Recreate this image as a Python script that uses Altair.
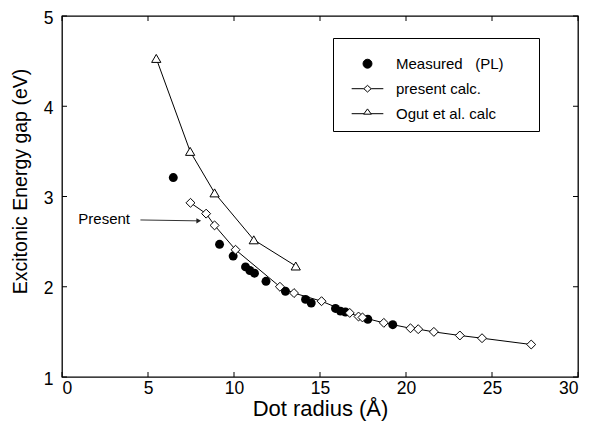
import altair as alt
import pandas as pd

# ---- data ----
measured_x = [6.47, 9.16, 9.95, 10.67, 10.92, 11.19, 11.86, 12.99, 14.16, 14.49, 15.90, 16.19, 16.48, 17.78, 19.23]
measured_y = [3.21, 2.47, 2.34, 2.22, 2.18, 2.15, 2.06, 1.95, 1.86, 1.82, 1.76, 1.73, 1.72, 1.64, 1.58]

present_x = [7.47, 8.38, 8.87, 10.09, 12.67, 13.49, 15.09, 16.73, 17.24, 17.47, 18.71, 20.26, 20.71, 21.62, 23.13, 24.42, 27.28]
present_y = [2.93, 2.81, 2.68, 2.41, 2.00, 1.93, 1.84, 1.71, 1.67, 1.66, 1.60, 1.54, 1.53, 1.50, 1.46, 1.43, 1.36]

ogut_x = [5.48, 7.45, 8.87, 11.15, 13.59]
ogut_y = [4.53, 3.50, 3.04, 2.52, 2.23]

NB = "\u00a0"
series_names = ["Measured" + NB * 3 + "(PL)" + NB + "\u2800\u2800", "present calc.", "Ogut et al. calc"]

x_ticks = [0, 5, 10, 15, 20, 25, 30]
y_ticks = [1, 2, 3, 4, 5]

note_text = ["Present"]
note_x = [0.95]
note_y = [2.75]
arrow_x = [4.56, 7.95]
arrow_y = [2.74, 2.73]

W, H = 516, 361
FONT = "Liberation Sans"
NARROW = "Liberation Sans Narrow, Liberation Sans"

meas_df = pd.DataFrame({"x": measured_x, "y": measured_y})
pres_df = pd.DataFrame({"x": present_x, "y": present_y})
ogut_df = pd.DataFrame({"x": ogut_x, "y": ogut_y})

xs = alt.Scale(domain=[0, 30], nice=False, zero=False)
ys = alt.Scale(domain=[1, 5], nice=False, zero=False)
X = alt.X("x:Q", scale=xs, axis=alt.Axis(values=x_ticks, title="Dot radius (Å)",
          domain=False, ticks=False, grid=False, labelFontSize=17.5, labelPadding=2,
          labelFont=NARROW, labelColor="black", titleFont=FONT, titleFontSize=22,
          titleFontWeight="normal", titleColor="black", titlePadding=2))
Y = alt.Y("y:Q", scale=ys, axis=alt.Axis(values=y_ticks, title="Excitonic Energy gap (eV)",
          domain=False, ticks=False, grid=False, labelFontSize=17.5, labelPadding=9,
          labelOffset=2, labelFont=NARROW, labelColor="black", titleFont=FONT, titleFontSize=19.5,
          titleFontWeight="normal", titleColor="black", titleX=-32, titleY=165))

pres_line = alt.Chart(pres_df).mark_line(color="black", strokeWidth=1).encode(x=X, y=Y)
ogut_line = alt.Chart(ogut_df).mark_line(color="black", strokeWidth=1).encode(x=X, y=Y)
pres_pts = alt.Chart(pres_df).mark_point(shape="diamond", filled=True, fill="white", stroke="black",
                                         strokeWidth=1, size=80, opacity=1).encode(x=X, y=Y)
ogut_pts = alt.Chart(ogut_df).mark_point(shape="triangle-up", filled=True, fill="white", stroke="black",
                                         strokeWidth=1, size=85, opacity=1).encode(x=X, y=Y)
meas_pts = alt.Chart(meas_df).mark_circle(color="black", size=80, opacity=1).encode(x=X, y=Y)

# legend (symbols drawn as line + marker paths)
circle_p = "M0.27,0A0.28,0.28 0 1,0 0.83,0A0.28,0.28 0 1,0 0.27,0Z"
diamond_p = "M-0.44,0H0.32M0.78,0H1.54M0.55,-0.21L0.78,0L0.55,0.21L0.32,0Z"
tri_p = "M-0.44,0H0.33M0.77,0H1.54M0.55,-0.3L0.79,0.03L0.31,0.03Z"

leg = alt.Legend(
    title=None, orient="none", legendX=271, legendY=22, padding=9.2,
    strokeColor="black", fillColor="white", symbolSize=1024, rowPadding=-12.7,
    labelOffset=20.8, labelFontSize=15, labelFont=FONT, labelColor="black", labelLimit=300,
    symbolStrokeWidth=1, symbolStrokeColor="black", symbolOpacity=1)
leg_df = pd.DataFrame({"x": [1, 1, 1], "y": [1.5, 1.5, 1.5], "s": series_names})
legend_layer = alt.Chart(leg_df).mark_point(filled=True, strokeWidth=1, opacity=0, size=1).encode(
    x=X, y=Y,
    shape=alt.Shape("s:N", scale=alt.Scale(domain=series_names, range=[circle_p, diamond_p, tri_p]), legend=leg),
    fill=alt.Fill("s:N", scale=alt.Scale(domain=series_names, range=["black", "white", "white"]), legend=leg),
    stroke=alt.Stroke("s:N", scale=alt.Scale(domain=series_names, range=["black", "black", "black"]), legend=leg),
)

note = alt.Chart(pd.DataFrame({"x": note_x, "y": note_y, "t": note_text})).mark_text(
    align="left", baseline="middle", fontSize=15, font=FONT, color="black").encode(
    x=X, y=Y, text="t:N")
arrow_df = pd.DataFrame({"x": arrow_x, "y": arrow_y})
arrow = alt.Chart(arrow_df).mark_line(color="#333", strokeWidth=1).encode(x=X, y=Y)
head = alt.Chart(arrow_df.tail(1)).mark_point(shape="triangle-right", filled=True, color="#222",
                                               size=30, opacity=1).encode(x=X, y=Y)

xt = pd.DataFrame({"x": x_ticks})
yt = pd.DataFrame({"y": y_ticks})
tb = alt.Chart(xt).mark_rule(color="black", strokeWidth=1).encode(x=X, y=alt.value(H), y2=alt.value(H - 5))
tt = alt.Chart(xt).mark_rule(color="black", strokeWidth=1).encode(x=X, y=alt.value(0), y2=alt.value(5))
tl = alt.Chart(yt).mark_rule(color="black", strokeWidth=1).encode(y=Y, x=alt.value(0), x2=alt.value(5))
tr = alt.Chart(yt).mark_rule(color="black", strokeWidth=1).encode(y=Y, x=alt.value(W), x2=alt.value(W - 5))

chart = alt.layer(tb, tt, tl, tr, pres_line, ogut_line, arrow, head, note,
                  meas_pts, pres_pts, ogut_pts, legend_layer).properties(
    width=W, height=H,
    autosize=alt.AutoSizeParams(type="none"),
    padding={"left": 54, "top": 8, "right": 3, "bottom": 50},
    background="white",
).configure_view(stroke="black", strokeWidth=1.3)

chart.save("out.html", embed_options={"renderer": "svg", "actions": False})
